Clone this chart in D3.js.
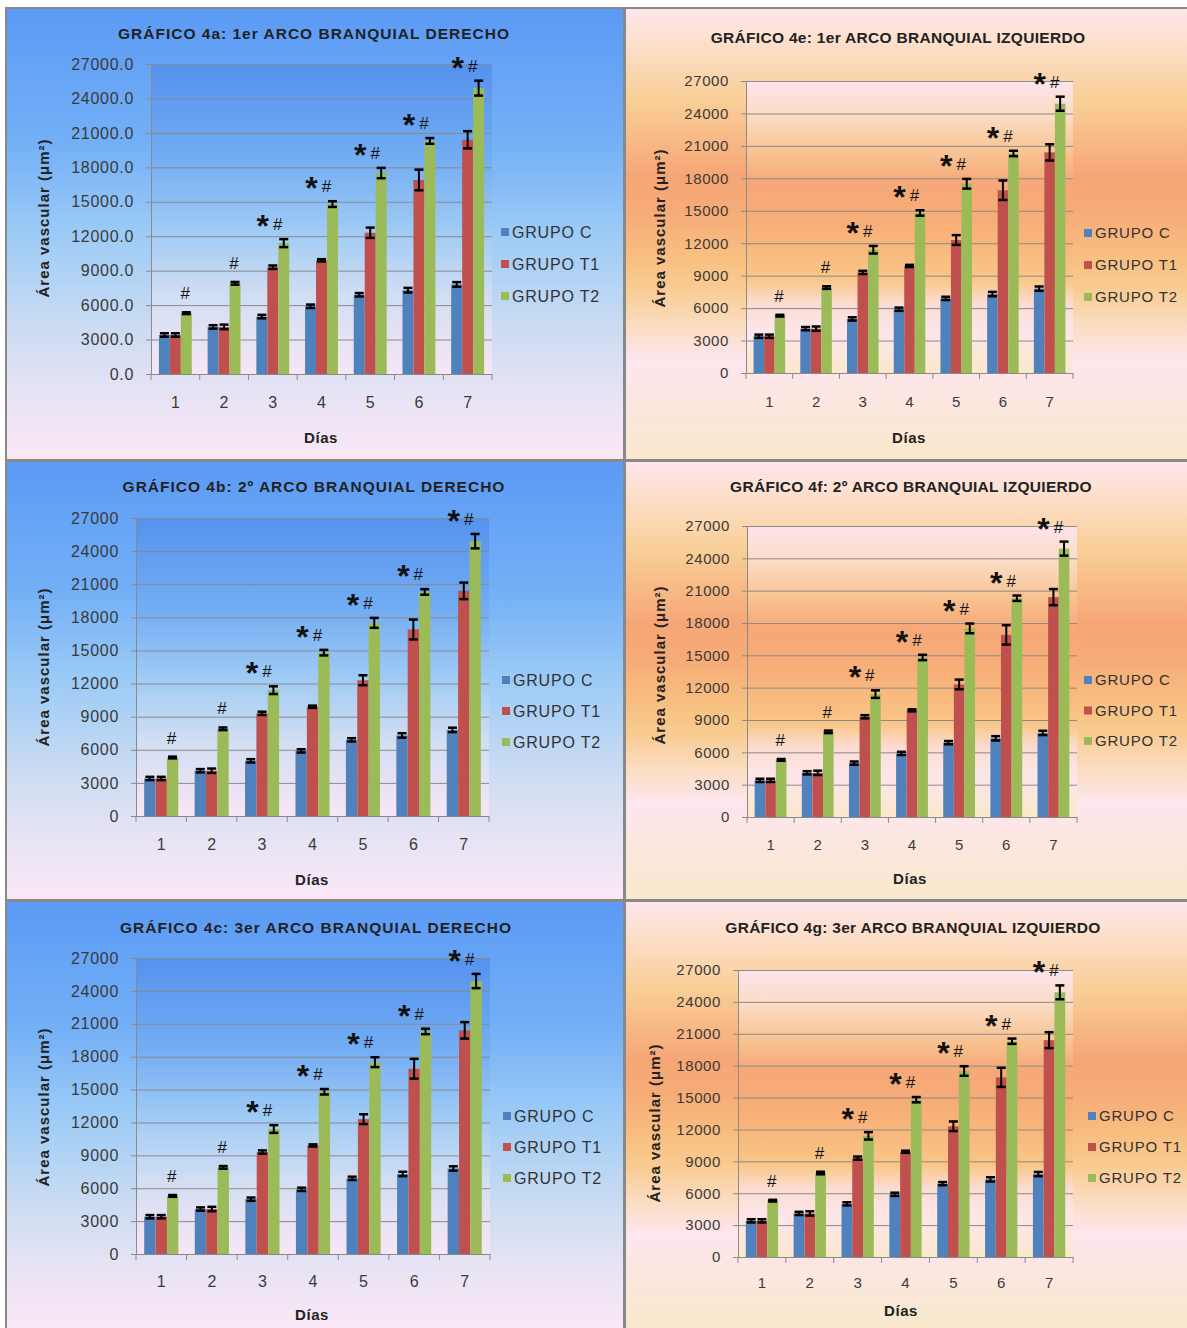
<!DOCTYPE html>
<html>
<head>
<meta charset="utf-8">
<script src="https://cdn.jsdelivr.net/npm/d3@7"></script>
<style>
  body { margin: 0; background: #fff; }
  svg { display: block; }
  text { font-family: "Liberation Sans", Arial, sans-serif; }
</style>
</head>
<body>
<svg id="chart" width="1187" height="1328"></svg>
<script>
// Vascular area per day and group (same measurements in every gill arch chart)
const days = ["1", "2", "3", "4", "5", "6", "7"];
const groups = ["GRUPO C", "GRUPO T1", "GRUPO T2"];
const grupoC  = [3400, 4100, 5000, 5900, 6900, 7300, 7800];
const grupoT1 = [3400, 4100, 9300, 9900, 12300, 16900, 20400];
const grupoT2 = [5300, 7900, 11400, 14800, 17500, 20300, 24900];
const errC  = [150, 150, 150, 150, 150, 200, 200];
const errT1 = [150, 200, 150, 100, 450, 900, 750];
const errT2 = [80, 120, 350, 250, 450, 250, 650];
const signif = ["#", "#", "*#", "*#", "*#", "*#", "*#"];
const yTicks = [0, 3000, 6000, 9000, 12000, 15000, 18000, 21000, 24000, 27000];
const titles = [
  "GRÁFICO 4a: 1er ARCO BRANQUIAL DERECHO",
  "GRÁFICO 4e: 1er ARCO BRANQUIAL IZQUIERDO",
  "GRÁFICO 4b: 2º ARCO BRANQUIAL DERECHO",
  "GRÁFICO 4f: 2º ARCO BRANQUIAL IZQUIERDO",
  "GRÁFICO 4c: 3er ARCO BRANQUIAL DERECHO",
  "GRÁFICO 4g: 3er ARCO BRANQUIAL IZQUIERDO"
];
const yTitle = "Área vascular (μm²)";
const xTitle = "Días";

const seriesValues = [grupoC, grupoT1, grupoT2];
const seriesErrors = [errC, errT1, errT2];
const seriesColors = ["#4f81bd", "#c0504d", "#9bbb59"];

// Text styling for the two chart families
const styles = {
  blue:   { tick: 16, tickLs: 0.7, legend: 16, titleLs: 1 },
  orange: { tick: 15, tickLs: 0.6, legend: 15, titleLs: 0.3 }
};

// Panel layout (pixel geometry of each chart box)
const layout = [
  { theme: "blue",   fmt: ".1f", box: [7, 9, 616, 450],   tx: 314, ty: 34,  plot: [151, 64, 492, 374],   yt: [44, 218],  xl: 402,  dx: 321, dy: 438,  leg: [501, 232, 32] },
  { theme: "orange", fmt: "d",   box: [626, 9, 561, 450], tx: 898, ty: 38,  plot: [746, 81, 1073, 373],  yt: [660, 228], xl: 402,  dx: 909, dy: 438,  leg: [1084, 233, 32] },
  { theme: "blue",   fmt: "d",   box: [7, 462, 616, 437], tx: 314, ty: 487, plot: [136, 518, 489, 816],  yt: [44, 667],  xl: 844,  dx: 312, dy: 880,  leg: [502, 680, 31] },
  { theme: "orange", fmt: "d",   box: [626, 462, 561, 437], tx: 911, ty: 487, plot: [747, 526, 1077, 817], yt: [660, 665], xl: 845, dx: 910, dy: 879, leg: [1084, 680, 30.5] },
  { theme: "blue",   fmt: "d",   box: [7, 902, 616, 426], tx: 316, ty: 928, plot: [136, 958, 490, 1254], yt: [44, 1107], xl: 1281, dx: 312, dy: 1315, leg: [503, 1116, 31] },
  { theme: "orange", fmt: "d",   box: [626, 902, 561, 426], tx: 913, ty: 928, plot: [738, 970, 1073, 1257], yt: [655, 1123], xl: 1283, dx: 901, dy: 1311, leg: [1088, 1116, 31] }
];

const svg = d3.select("#chart");
const defs = svg.append("defs");

function gradient(id, stops) {
  const g = defs.append("linearGradient").attr("id", id)
    .attr("x1", 0).attr("y1", 0).attr("x2", 0).attr("y2", 1);
  stops.forEach(([o, c]) => g.append("stop").attr("offset", o).attr("stop-color", c));
}
gradient("blue-bg", [[0, "#5b9af5"], [0.3, "#74b0f6"], [0.5, "#9ccbf6"], [0.7, "#c9dbf2"], [0.85, "#e6e3f4"], [1, "#fbe7f6"]]);
gradient("blue-plot", [[0, "#5592ee"], [0.3, "#72acf3"], [0.55, "#a2ccf4"], [0.75, "#d2def3"], [1, "#f7e6f5"]]);
gradient("orange-bg", [[0, "#fde6ec"], [0.06, "#fde1d2"], [0.2, "#f9cf98"], [0.37, "#f6a676"], [0.45, "#f6ab77"],
  [0.55, "#f8bf80"], [0.62, "#f9cb91"], [0.7, "#fbdcc0"], [0.78, "#fde6ee"], [1, "#fae8cc"]]);
gradient("orange-plot", [[0, "#fce4ec"], [0.12, "#fbdcc4"], [0.25, "#f8c290"], [0.35, "#f6a878"], [0.47, "#f7ad77"],
  [0.58, "#f8b97e"], [0.68, "#f9c788"], [0.76, "#fcdcd2"], [0.86, "#fde6ea"], [1, "#fbe8cc"]]);

// Frame: grey separators between the chart boxes
svg.append("rect").attr("x", 5).attr("y", 7).attr("width", 1182).attr("height", 1321).attr("fill", "#888");

layout.forEach((p, i) => drawPanel(p, titles[i]));

function drawPanel(p, title) {
  const st = styles[p.theme];
  const g = svg.append("g");
  const [bx, by, bw, bh] = p.box;
  g.append("rect").attr("x", bx).attr("y", by).attr("width", bw).attr("height", bh)
    .attr("fill", `url(#${p.theme}-bg)`);

  const [x0, y0, x1, y1] = p.plot;
  g.append("rect").attr("x", x0).attr("y", y0).attr("width", x1 - x0).attr("height", y1 - y0)
    .attr("fill", `url(#${p.theme}-plot)`);

  const x = d3.scaleBand().domain(days).range([x0, x1]).paddingInner(0).paddingOuter(0);
  const xg = d3.scaleBand().domain(groups).range([0, x.bandwidth()]).paddingInner(0).paddingOuter(0.722);
  const y = d3.scaleLinear().domain([0, 27000]).range([y1, y0]);

  // Horizontal gridlines + y axis
  const yAxis = d3.axisLeft(y).tickValues(yTicks).tickSize(-(x1 - x0)).tickSizeOuter(0)
    .tickFormat(d3.format(p.fmt)).tickPadding(17);
  const ya = g.append("g").attr("transform", `translate(${x0},0)`).call(yAxis);
  ya.select(".domain").attr("stroke", "#8a8a8a");
  ya.selectAll(".tick line").attr("stroke", "#8a8a8a").attr("x1", -5);
  ya.selectAll(".tick text").attr("font-size", st.tick).attr("fill", "#3a3a3a").attr("letter-spacing", st.tickLs)
    .attr("font-family", "'Liberation Sans', Arial, sans-serif");

  // Category axis
  const xAxis = d3.axisBottom(x).tickSize(0).tickPadding(0);
  const xa = g.append("g").attr("transform", `translate(0,${y1})`).call(xAxis);
  xa.select(".domain").attr("stroke", "#8a8a8a");
  xa.selectAll(".tick text").attr("font-size", st.tick).attr("fill", "#3a3a3a")
    .attr("y", p.xl - y1).attr("dy", "0.35em")
    .attr("font-family", "'Liberation Sans', Arial, sans-serif");
  xa.selectAll(".tickmark").data(d3.range(days.length + 1)).enter().append("line")
    .attr("x1", k => x0 + k * x.step()).attr("x2", k => x0 + k * x.step())
    .attr("y1", 0).attr("y2", 6).attr("stroke", "#8a8a8a");

  // Bars
  groups.forEach((grp, s) => {
    const vals = seriesValues[s];
    g.append("g").selectAll("rect").data(days).enter().append("rect")
      .attr("x", (d) => x(d) + xg(grp))
      .attr("y", (d, k) => y(vals[k]))
      .attr("width", xg.bandwidth())
      .attr("height", (d, k) => y1 - y(vals[k]))
      .attr("fill", seriesColors[s]);
  });

  // Error bars
  groups.forEach((grp, s) => {
    const vals = seriesValues[s], errs = seriesErrors[s];
    const eg = g.append("g").attr("stroke", "#000");
    days.forEach((d, k) => {
      const cx = x(d) + xg(grp) + xg.bandwidth() / 2;
      const hi = y(vals[k] + errs[k]), lo = y(vals[k] - errs[k]);
      eg.append("line").attr("x1", cx).attr("x2", cx).attr("y1", hi).attr("y2", lo).attr("stroke-width", 2);
      eg.append("line").attr("x1", cx - 4.5).attr("x2", cx + 4.5).attr("y1", hi).attr("y2", hi).attr("stroke-width", 2.5);
      eg.append("line").attr("x1", cx - 4.5).attr("x2", cx + 4.5).attr("y1", lo).attr("y2", lo).attr("stroke-width", 2.5);
    });
  });

  // Significance marks above the T2 bars
  days.forEach((d, k) => {
    const base = y(grupoT2[k] + errT2[k]) - 9;
    const mark = signif[k];
    if (mark === "#") {
      g.append("text").attr("x", x(d) + xg("GRUPO T2") + xg.bandwidth() / 2 - 1).attr("y", base - 4)
        .attr("text-anchor", "middle").attr("font-size", 17).attr("fill", "#111").text("#");
    } else {
      const c = x(d) + x.bandwidth() / 2;
      g.append("text").attr("x", c - 10).attr("y", base + 7).attr("text-anchor", "middle")
        .attr("font-family", "'DejaVu Sans', sans-serif").attr("font-weight", "bold")
        .attr("font-size", 32).attr("fill", "#111").text("*");
      g.append("text").attr("x", c + 5).attr("y", base).attr("text-anchor", "middle")
        .attr("font-size", 17).attr("fill", "#111").text("#");
    }
  });

  // Titles
  g.append("text").attr("x", p.tx).attr("y", p.ty).attr("dy", "0.35em").attr("text-anchor", "middle")
    .attr("font-size", 15.5).attr("font-weight", "bold").attr("letter-spacing", st.titleLs).attr("fill", "#222").text(title);
  g.append("text").attr("transform", `translate(${p.yt[0]},${p.yt[1]}) rotate(-90)`)
    .attr("dy", "0.35em").attr("text-anchor", "middle").attr("letter-spacing", 1)
    .attr("font-size", 15).attr("font-weight", "bold").attr("fill", "#222").text(yTitle);
  g.append("text").attr("x", p.dx).attr("y", p.dy).attr("dy", "0.35em").attr("text-anchor", "middle")
    .attr("font-size", 15).attr("font-weight", "bold").attr("letter-spacing", 0.6).attr("fill", "#222").text(xTitle);

  // Legend
  const [lx, ly, lstep] = p.leg;
  groups.forEach((grp, s) => {
    const cy = ly + s * lstep;
    g.append("rect").attr("x", lx).attr("y", cy - 4).attr("width", 8).attr("height", 8).attr("fill", seriesColors[s]);
    g.append("text").attr("x", lx + 11).attr("y", cy).attr("dy", "0.35em").attr("letter-spacing", 0.8)
      .attr("font-size", st.legend).attr("fill", "#333").text(grp);
  });
}
</script>
</body>
</html>
